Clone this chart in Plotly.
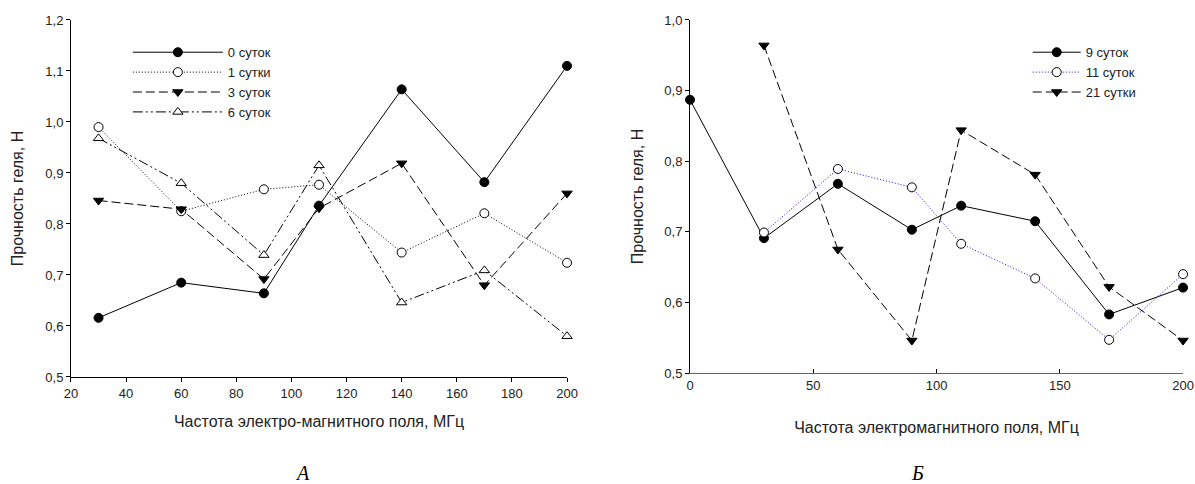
import plotly.graph_objects as go

# Panel A data
freq_a = [30, 60, 90, 110, 140, 170, 200]
day0 = [0.616, 0.685, 0.664, 0.836, 1.064, 0.882, 1.110]
day1 = [0.990, 0.825, 0.868, 0.877, 0.744, 0.821, 0.724]
day3 = [0.846, 0.829, 0.692, 0.831, 0.919, 0.680, 0.860]
day6 = [0.968, 0.880, 0.739, 0.915, 0.646, 0.709, 0.580]
names_a = ["0 суток", "1 сутки", "3 суток", "6 суток"]

# Panel B data
freq_b9 = [0, 30, 60, 90, 110, 140, 170, 200]
day9 = [0.887, 0.691, 0.768, 0.703, 0.737, 0.715, 0.583, 0.621]
freq_b = [30, 60, 90, 110, 140, 170, 200]
day11 = [0.699, 0.789, 0.763, 0.683, 0.634, 0.547, 0.640]
day21 = [0.964, 0.675, 0.546, 0.844, 0.781, 0.622, 0.546]
names_b = ["9 суток", "11 суток", "21 сутки"]

FONT = "Liberation Sans, Arial, sans-serif"
fig = go.Figure()

def add(x, y, name, dash, symbol, xa, ya, legend, color="black", mfill="black", size=9):
    fig.add_trace(go.Scatter(
        x=x, y=y, name=name, mode="lines+markers", xaxis=xa, yaxis=ya, legend=legend,
        line=dict(color=color, width=1, dash=dash),
        marker=dict(symbol=symbol, size=size, color=mfill, line=dict(color="black", width=1)),
        cliponaxis=False))

add(freq_a, day0, names_a[0], "solid", "circle", "x", "y", "legend")
add(freq_a, day1, names_a[1], "1px,2px", "circle", "x", "y", "legend", mfill="white")
add(freq_a, day3, names_a[2], "9px,4px", "triangle-down", "x", "y", "legend")
add(freq_a, day6, names_a[3], "10px,3px,2px,3px,2px,3px", "triangle-up", "x", "y", "legend", mfill="white")

add(freq_b9, day9, names_b[0], "solid", "circle", "x2", "y2", "legend2")
add(freq_b, day11, names_b[1], "1px,2px", "circle", "x2", "y2", "legend2", color="#1010d0", mfill="white")
add(freq_b, day21, names_b[2], "9px,4px", "triangle-down", "x2", "y2", "legend2")

axis_common = dict(showgrid=False, zeroline=False, showline=True, linecolor="black", linewidth=1,
                   ticks="outside", ticklen=4, tickcolor="black", automargin=False,
                   tickfont=dict(family=FONT, size=13, color="#222"))

TITLE_FONT = dict(family=FONT, size=16, color="#222")

fig.update_layout(
    width=1195, height=484, paper_bgcolor="white", plot_bgcolor="white",
    margin=dict(l=0, r=0, t=0, b=0, autoexpand=False), separators=", ",
    font=dict(family=FONT, size=13, color="#222"),
    xaxis=dict(domain=[0.0594, 0.4745], range=[20, 200], dtick=20, tick0=20, anchor="y",
               title=dict(text="Частота электро-магнитного поля, МГц", font=TITLE_FONT, standoff=16),
               **axis_common),
    yaxis=dict(domain=[0.2211, 0.9587], range=[0.5, 1.2], dtick=0.1, tick0=0.5, tickformat=".1f", anchor="x",
               title=dict(text="Прочность геля, Н", font=TITLE_FONT, standoff=17),
               **axis_common),
    xaxis2=dict(domain=[0.5774, 0.9900], range=[0, 200], dtick=50, tick0=0, anchor="y2",
                title=dict(text="Частота электромагнитного поля, МГц", font=TITLE_FONT, standoff=30),
                **{**axis_common, "linecolor": "#666", "ticks": "inside"}),
    yaxis2=dict(domain=[0.2293, 0.9587], range=[0.5, 1.0], dtick=0.1, tick0=0.5, tickformat=".1f", anchor="x2",
                title=dict(text="Прочность геля, Н", font=TITLE_FONT, standoff=16),
                **axis_common),
    legend=dict(x=0.107, y=0.923, xanchor="left", yanchor="top", bgcolor="rgba(0,0,0,0)",
                font=dict(family=FONT, size=13, color="#222"), itemwidth=90, tracegroupgap=0),
    legend2=dict(x=0.860, y=0.923, xanchor="left", yanchor="top", bgcolor="rgba(0,0,0,0)",
                 font=dict(family=FONT, size=13, color="#222"), itemwidth=48, tracegroupgap=0),
    annotations=[
        dict(text="A", x=0.2535, y=0.022, xref="paper", yref="paper", showarrow=False,
             font=dict(family="Liberation Serif, Times New Roman, serif", size=20, color="black", style="italic"),
             xanchor="center", yanchor="middle"),
        dict(text="Б", x=0.768, y=0.022, xref="paper", yref="paper", showarrow=False,
             font=dict(family="Liberation Serif, Times New Roman, serif", size=20, color="black", style="italic"),
             xanchor="center", yanchor="middle"),
    ],
)

fig.write_html("out.html", config={"displayModeBar": False},
               post_script="document.body.style.margin='0';document.body.style.overflow='hidden';")
